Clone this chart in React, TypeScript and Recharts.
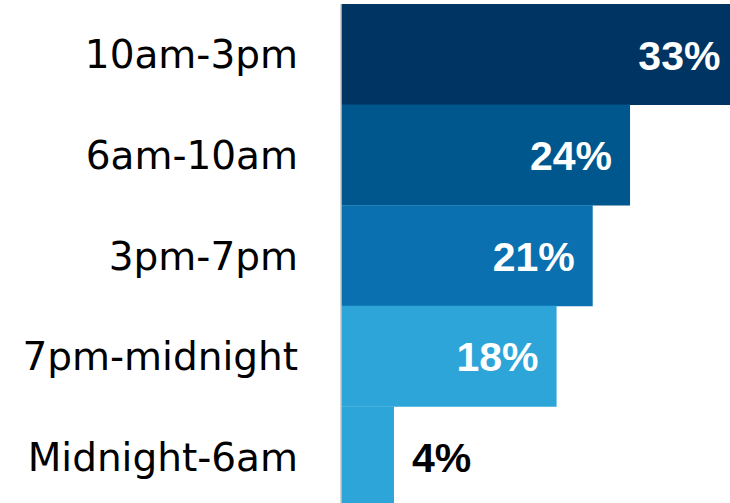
import { BarChart, Bar, XAxis, YAxis, Cell, LabelList } from 'recharts';

const timeSlots = ['10am-3pm', '6am-10am', '3pm-7pm', '7pm-midnight', 'Midnight-6am'];
const shareOfVisits = [33, 24, 20.9, 17.9, 4.4];
const barColors = ['#003462', '#00578d', '#0a70b0', '#2ea5d8', '#2ea5d8'];

const data = timeSlots.map((slot, i) => ({ slot, share: shareOfVisits[i] }));

const CategoryTick = (props: any) => {
  const { x, y, payload } = props;
  return (
    <text x={x} y={y} dy={14} textAnchor="end" fill="#000" fontSize={39} fontFamily="'DejaVu Sans', sans-serif">
      {payload.value}
    </text>
  );
};

const ShareLabel = (props: any) => {
  const { x, y, width, height, value } = props;
  const text = `${Math.round(value)}%`;
  const inside = value >= 10;
  const baseline = y + height / 2 + 15;
  return (
    <text
      x={inside ? x + width - 18 : x + width + 18}
      y={baseline}
      textAnchor={inside ? 'end' : 'start'}
      fill={inside ? '#ffffff' : '#000000'}
      fontSize={41}
      fontWeight="bold"
      fontFamily="'Liberation Sans', Arial, sans-serif"
    >
      {text}
    </text>
  );
};

export default function App() {
  return (
    <div style={{ position: 'absolute', left: 0, top: 0, width: 730, height: 503, overflow: 'hidden', background: '#fff' }}>
      <BarChart
        width={730}
        height={507}
        data={data}
        layout="vertical"
        margin={{ top: 4, right: 0, bottom: 0, left: 0 }}
        barCategoryGap={0}
      >
        <XAxis type="number" domain={[0, 32.3]} allowDataOverflow hide />
        <YAxis
          type="category"
          dataKey="slot"
          width={341}
          axisLine={{ stroke: '#c6c6c6', strokeWidth: 1.5 }}
          tickLine={false}
          tickSize={0}
          tickMargin={43}
          tick={<CategoryTick />}
        />
        <Bar dataKey="share" isAnimationActive={false}>
          {data.map((d, i) => (
            <Cell key={d.slot} fill={barColors[i]} />
          ))}
          <LabelList dataKey="share" content={<ShareLabel />} />
        </Bar>
      </BarChart>
    </div>
  );
}
